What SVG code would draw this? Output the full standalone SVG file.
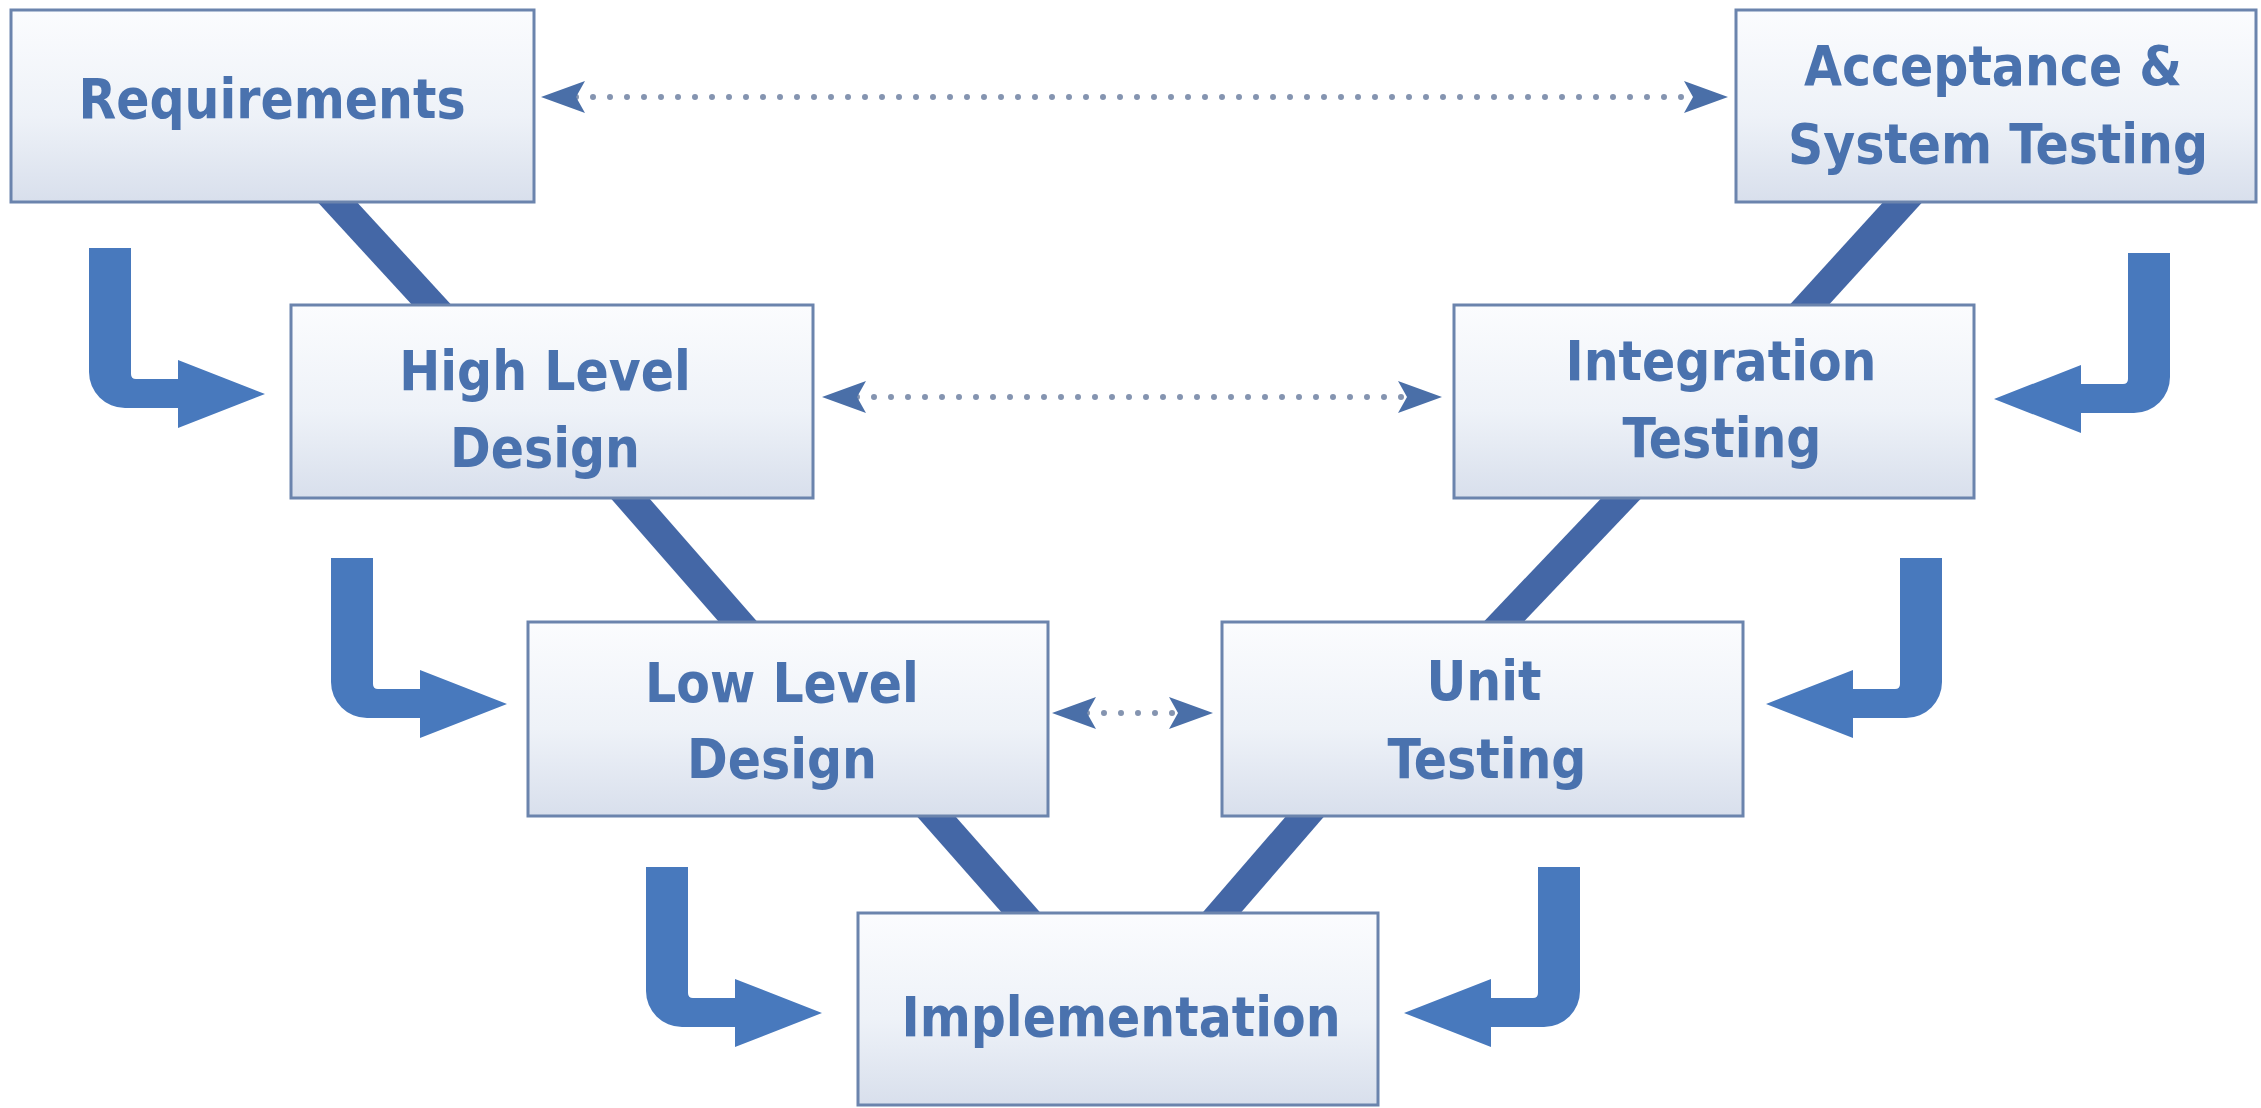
<svg xmlns="http://www.w3.org/2000/svg" width="2261" height="1108" viewBox="0 0 2261 1108">
  <defs>
    <linearGradient id="boxFill" x1="0" y1="0" x2="0" y2="1">
      <stop offset="0" stop-color="#fbfcfe"/>
      <stop offset="0.55" stop-color="#eef2f8"/>
      <stop offset="1" stop-color="#d8dfec"/>
    </linearGradient>
    <marker id="dotHead" viewBox="0 0 44 32" refX="9" refY="16" markerWidth="44" markerHeight="32" markerUnits="userSpaceOnUse" orient="auto-start-reverse">
      <path d="M0,0 L44,16 L0,32 L9,16 Z" fill="#4a6fa8"/>
    </marker>
    <path id="bentArrow" d="M-176,-146 H-134 V-20 Q-134,-15 -129,-15 H-87 V-34 L0,0 L-87,34 V14 H-140 A36,36 0 0 1 -176,-22 Z"/>
    <style>
      .box { fill: url(#boxFill); stroke: #6b84ad; stroke-width: 3; }
      .lbl { font-family: "DejaVu Sans", "Liberation Sans", sans-serif; font-stretch: condensed; font-weight: bold; font-size: 54.5px; fill: #4a72ae; text-anchor: middle; }
      .vline { stroke: #4467a6; stroke-width: 29; fill: none; }
      .dots { stroke: #8494b0; stroke-width: 6; stroke-linecap: round; stroke-dasharray: 0 17; fill: none; marker-start: url(#dotHead); marker-end: url(#dotHead); }
      .bent { fill: #4879bd; }
    </style>
  </defs>

  <rect width="2261" height="1108" fill="#ffffff"/>

  <g id="connectors">
    <!-- V-shaped links -->
    <line class="vline" x1="328" y1="192" x2="441" y2="315"/>
    <line class="vline" x1="621" y1="488" x2="747" y2="632"/>
    <line class="vline" x1="927" y1="806" x2="1032" y2="925"/>
    <line class="vline" x1="1912" y1="192" x2="1800" y2="315"/>
    <line class="vline" x1="1631" y1="488" x2="1494" y2="632"/>
    <line class="vline" x1="1314" y1="806" x2="1211" y2="925"/>
    <!-- dotted double arrows -->
    <line class="dots" x1="576" y1="97" x2="1693" y2="97"/>
    <line class="dots" x1="857" y1="397" x2="1407" y2="397"/>
    <line class="dots" x1="1087" y1="713" x2="1178" y2="713"/>
    <!-- bent flow arrows -->
    <use href="#bentArrow" class="bent" transform="translate(265,394)"/>
    <use href="#bentArrow" class="bent" transform="translate(507,704)"/>
    <use href="#bentArrow" class="bent" transform="translate(822,1013)"/>
    <use href="#bentArrow" class="bent" transform="translate(1994,399) scale(-1,1)"/>
    <use href="#bentArrow" class="bent" transform="translate(1766,704) scale(-1,1)"/>
    <use href="#bentArrow" class="bent" transform="translate(1404,1013) scale(-1,1)"/>
  </g>

  <g id="requirements">
    <rect class="box" x="11" y="10" width="523" height="192"/>
    <text class="lbl" x="272" y="118">Requirements</text>
  </g>
  <g id="acceptance">
    <rect class="box" x="1736" y="10" width="520" height="192"/>
    <text class="lbl" x="1993" y="85">Acceptance &amp;</text>
    <text class="lbl" x="1998" y="163">System Testing</text>
  </g>
  <g id="high-level-design">
    <rect class="box" x="291" y="305" width="522" height="193"/>
    <text class="lbl" x="545" y="390">High Level</text>
    <text class="lbl" x="545" y="467">Design</text>
  </g>
  <g id="integration-testing">
    <rect class="box" x="1454" y="305" width="520" height="193"/>
    <text class="lbl" x="1721" y="380">Integration</text>
    <text class="lbl" x="1722" y="457">Testing</text>
  </g>
  <g id="low-level-design">
    <rect class="box" x="528" y="622" width="520" height="194"/>
    <text class="lbl" x="782" y="702">Low Level</text>
    <text class="lbl" x="782" y="778">Design</text>
  </g>
  <g id="unit-testing">
    <rect class="box" x="1222" y="622" width="521" height="194"/>
    <text class="lbl" x="1484" y="700">Unit</text>
    <text class="lbl" x="1487" y="778">Testing</text>
  </g>
  <g id="implementation">
    <rect class="box" x="858" y="913" width="520" height="192"/>
    <text class="lbl" x="1121" y="1036">Implementation</text>
  </g>
</svg>
